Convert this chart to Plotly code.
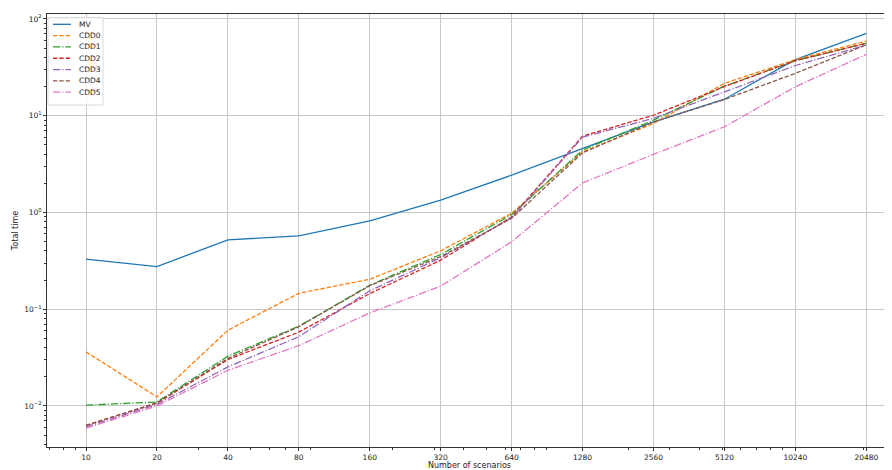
import numpy as np
import plotly.graph_objects as go

scenarios = [10, 20, 40, 80, 160, 320, 640, 1280, 2560, 5120, 10240, 20480]
x_tick_labels = [str(v) for v in scenarios]

mv   = [0.329, 0.276, 0.521, 0.573, 0.819, 1.34, 2.43, 4.59, 8.65, 14.8, 38.0, 71.0]
cdd0 = [0.0362, 0.0124, 0.0607, 0.146, 0.204, 0.401, 0.98, 4.23, 8.3, 21.6, 38.0, 59.0]
cdd1 = [0.0102, 0.0110, 0.0327, 0.0667, 0.177, 0.368, 0.95, 4.41, 9.0, 20.2, 37.0, 56.0]
cdd2 = [0.0063, 0.0107, 0.0302, 0.058, 0.145, 0.321, 0.90, 6.15, 10.1, 20.0, 37.0, 56.0]
cdd3 = [0.0061, 0.0104, 0.0253, 0.052, 0.155, 0.340, 0.88, 6.0, 9.4, 17.7, 33.0, 53.7]
cdd4 = [0.0063, 0.0108, 0.0310, 0.066, 0.175, 0.350, 0.87, 4.14, 8.6, 14.7, 27.4, 54.0]
cdd5 = [0.0059, 0.0100, 0.0234, 0.042, 0.0916, 0.173, 0.497, 2.02, 3.98, 7.68, 19.9, 43.0]

DASHED = "4.4px,1.9px"
DASHDOT = "7.4px,1.9px,1.2px,1.9px"
series = [
    ("MV", mv, "#1f77b4", "solid"),
    ("CDD0", cdd0, "#ff7f0e", DASHED),
    ("CDD1", cdd1, "#2ca02c", DASHDOT),
    ("CDD2", cdd2, "#d62728", DASHED),
    ("CDD3", cdd3, "#9467bd", DASHDOT),
    ("CDD4", cdd4, "#8c564b", DASHED),
    ("CDD5", cdd5, "#e377c2", DASHDOT),
]

OFF = 8  # page body margin
W, H = 892 - OFF, 470 - OFF
ML, MR, MT = 47 - OFF, 0, 14 - OFF
MB = H - (446.7 - OFF)
PW, PH = W - ML - MR, H - MT - MB
LW = 1.3


def px(X):
    return (X - OFF - ML) / PW


def py(Y):
    return (H - MB - (Y - OFF)) / PH


fig = go.Figure()
for name, vals, color, dash in series:
    fig.add_trace(go.Scatter(x=scenarios, y=vals, mode="lines", name=name,
                             line=dict(color=color, width=LW, dash=dash)))

# compact legend in matplotlib style
shapes = []
annotations = []
shapes.append(dict(type="rect", xref="paper", yref="paper",
                   x0=px(48), x1=px(103), y0=py(105), y1=py(17.5),
                   line=dict(color="#d9d9d9", width=1), fillcolor="rgba(255,255,255,0.8)",
                   layer="above"))
for i, (name, vals, color, dash) in enumerate(series):
    yy = 24.3 + 11.3 * i
    shapes.append(dict(type="line", xref="paper", yref="paper",
                       x0=px(53), x1=px(71), y0=py(yy), y1=py(yy),
                       line=dict(color=color, width=LW, dash=dash), layer="above"))
    annotations.append(dict(xref="paper", yref="paper", x=px(76.5), y=py(yy),
                            xanchor="left", yanchor="middle", text=name, showarrow=False,
                            font=dict(family="DejaVu Sans", size=7.5, color="#222222")))

x_minor = [m * 10 ** e for e in range(0, 5) for m in range(2, 10)]
x_minor = [v for v in x_minor if 6.8 < v < 26000 and v not in scenarios]
y_minor = [m * 10.0 ** e for e in range(-3, 3) for m in range(2, 10)]
y_minor = [v for v in y_minor if 0.0037 < v < 110]
y_major = [0.01, 0.1, 1, 10, 100]
y_major_text = ["10<sup>\u22122</sup>", "10<sup>\u22121</sup>", "10<sup>0</sup>",
                "10<sup>1</sup>", "10<sup>2</sup>"]

font = dict(family="DejaVu Sans", size=8, color="#222222")

fig.update_layout(
    width=W, height=H,
    margin=dict(l=ML, r=MR, t=MT, b=MB, autoexpand=False),
    paper_bgcolor="white", plot_bgcolor="white",
    font=font,
    showlegend=False,
    shapes=shapes,
    annotations=annotations,
    xaxis=dict(type="log", range=[0.8344, 4.4203], automargin=False,
               tickmode="array", tickvals=scenarios, ticktext=x_tick_labels,
               ticks="outside", ticklen=3, tickwidth=0.8, tickcolor="#333333",
               showline=True, linecolor="#333333", linewidth=0.9, mirror=True,
               showgrid=True, gridcolor="#c8c8c8", gridwidth=0.9,
               zeroline=False,
               minor=dict(tickmode="array", tickvals=x_minor, ticks="outside",
                          ticklen=1.8, tickwidth=0.6, tickcolor="#333333", showgrid=False),
               title=dict(text="Number of scenarios", standoff=3,
                          font=dict(family="DejaVu Sans", size=8, color="#222222")),
               tickfont=dict(family="DejaVu Sans", size=7.5, color="#222222")),
    yaxis=dict(type="log", range=[-2.424, 2.0507], automargin=False,
               tickmode="array", tickvals=y_major, ticktext=y_major_text,
               ticks="outside", ticklen=3, tickwidth=0.8, tickcolor="#333333",
               showline=True, linecolor="#333333", linewidth=0.9, mirror=False,
               showgrid=True, gridcolor="#c8c8c8", gridwidth=0.9,
               zeroline=False,
               minor=dict(tickmode="array", tickvals=y_minor, ticks="outside",
                          ticklen=1.8, tickwidth=0.6, tickcolor="#333333", showgrid=False),
               title=dict(text="Total time", standoff=4,
                          font=dict(family="DejaVu Sans", size=8, color="#222222")),
               tickfont=dict(family="DejaVu Sans", size=7.5, color="#222222")),
)

fig.write_html("out.html")
